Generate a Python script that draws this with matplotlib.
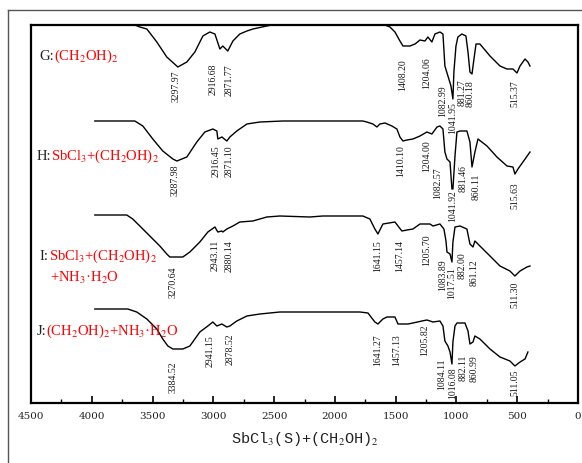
import matplotlib
matplotlib.use("Agg")
import matplotlib.pyplot as plt
from matplotlib.lines import Line2D

plt.rcParams["mathtext.fontset"] = "stix"

# --- spectra: wavenumber (cm-1) and stacked transmittance (a.u.) ---
wn_g = [3646, 3605, 3547, 3465, 3383, 3292, 3218, 3152, 3086, 3029,
        2987, 2946, 2922, 2881, 2839, 2782, 2724, 2675, 2560, 2518,
        1588, 1547, 1506, 1465, 1440, 1383, 1341, 1300, 1259, 1235,
        1202, 1177, 1136, 1111, 1095, 1070, 1045, 1029, 1021, 1004,
        988, 955, 922, 905, 889, 872, 856, 839, 807, 724,
        642, 584, 535, 502, 477, 436, 412, 395]
t_g = [378, 376, 374, 361, 346, 336, 341, 351, 367, 371,
       369, 354, 357, 352, 362, 369, 372, 374, 377, 378,
       378, 376, 371, 362, 357, 357, 359, 363, 362, 366,
       361, 369, 371, 369, 337, 327, 317, 304, 331, 357,
       366, 369, 367, 351, 331, 329, 344, 359, 359, 347,
       337, 334, 334, 330, 337, 344, 341, 337]

wn_h = [3975, 3646, 3580, 3498, 3416, 3333, 3300, 3218, 3136, 3070,
        3004, 2971, 2963, 2930, 2889, 2864, 2807, 2724, 2617, 2428,
        1770, 1737, 1687, 1654, 1630, 1588, 1531, 1490, 1465, 1440,
        1407, 1358, 1300, 1243, 1202, 1160, 1136, 1111, 1095, 1078,
        1053, 1037, 1029, 1012, 996, 971, 914, 889, 872, 848,
        823, 749, 667, 584, 535, 519, 494, 453, 395]
t_h = [282, 282, 277, 264, 252, 244, 242, 246, 261, 271,
       274, 272, 264, 266, 262, 266, 272, 279, 281, 282,
       282, 281, 279, 276, 279, 280, 277, 274, 266, 262,
       263, 264, 267, 271, 269, 276, 277, 274, 251, 244,
       241, 214, 214, 247, 271, 272, 272, 261, 236, 251,
       264, 257, 246, 237, 236, 229, 234, 241, 251]

wn_i = [3975, 3712, 3663, 3580, 3498, 3440, 3383, 3358, 3251, 3193,
        3111, 3045, 2987, 2963, 2930, 2922, 2889, 2839, 2782, 2675,
        2560, 2453, 2206, 2099, 1770, 1712, 1671, 1646, 1605, 1506,
        1449, 1407, 1358, 1300, 1218, 1193, 1136, 1103, 1086, 1078,
        1053, 1037, 1029, 1012, 971, 914, 889, 864, 848, 807,
        724, 642, 560, 519, 477, 420, 395]
t_i = [188, 188, 184, 174, 164, 157, 149, 146, 146, 151,
       161, 171, 176, 171, 172, 171, 174, 177, 181, 182,
       186, 187, 186, 187, 187, 184, 174, 169, 179, 181,
       172, 173, 174, 179, 179, 177, 179, 174, 162, 151,
       149, 141, 161, 176, 177, 174, 159, 156, 162, 157,
       147, 137, 132, 127, 132, 136, 137]

wn_j = [3975, 3704, 3630, 3547, 3465, 3416, 3374, 3333, 3251, 3193,
        3111, 3045, 3004, 2971, 2930, 2889, 2864, 2807, 2724, 2617,
        2535, 2453, 1794, 1728, 1671, 1646, 1605, 1572, 1506, 1481,
        1399, 1358, 1284, 1243, 1193, 1136, 1111, 1095, 1070, 1053,
        1037, 1029, 1012, 996, 930, 905, 889, 864, 848, 807,
        724, 642, 560, 519, 477, 436, 412]
t_j = [94, 94, 91, 84, 74, 64, 57, 54, 54, 57,
       71, 77, 81, 77, 79, 76, 77, 82, 87, 89,
       90, 91, 91, 90, 81, 79, 84, 86, 86, 79,
       79, 80, 82, 83, 81, 82, 77, 62, 57, 51,
       39, 61, 77, 80, 80, 72, 59, 61, 67, 64,
       54, 46, 42, 37, 41, 44, 51]

# --- peak annotations ---
peaks_g = ["3297.97", "2916.68", "2871.77", "1408.20", "1204.06",
           "1082.99", "1041.95", "881.27", "860.18", "515.37"]
peak_wn_g = [3308, 3004, 2872, 1440, 1243, 1111, 1029, 955, 889, 519]
peak_t_g = [336, 342, 342, 347, 349, 321, 304, 327, 326, 326]

peaks_h = ["3287.98", "2916.45", "2871.10", "1410.10", "1204.00",
           "1082.57", "1041.92", "881.46", "860.11", "515.63"]
peak_wn_h = [3317, 2979, 2872, 1457, 1243, 1152, 1029, 946, 839, 519]
peak_t_h = [241, 261, 261, 261, 266, 239, 216, 241, 232, 224]

peaks_i = ["3270.64", "2943.11", "2880.14", "1641.15", "1457.14",
           "1205.70", "1083.89", "1017.51", "882.00", "861.12", "511.30"]
peak_wn_i = [3333, 2987, 2872, 1646, 1465, 1243, 1111, 1037, 950, 856, 519]
peak_t_i = [139, 166, 166, 166, 166, 172, 147, 139, 154, 147, 124]

peaks_j = ["3384.52", "2941.15", "2878.52", "1641.27", "1457.13",
           "1205.82", "1084.11", "1016.08", "882.11", "860.99", "511.05"]
peak_wn_j = [3333, 3029, 2864, 1646, 1490, 1259, 1119, 1029, 946, 852, 519]
peak_t_j = [44, 71, 72, 72, 72, 81, 47, 39, 51, 51, 36]

# sample names: black prefix + red formula
name_prefix = ["G:", "H:", "I:", "J:"]
name_formula = ["(CH$_2$OH)$_2$", "SbCl$_3$+(CH$_2$OH)$_2$",
                "SbCl$_3$+(CH$_2$OH)$_2$", "(CH$_2$OH)$_2$+NH$_3$·H$_2$O"]
name_wn = [4428, 4452, 4428, 4452]
name_t = [344, 244, 144, 69]

xticks = [4500, 4000, 3500, 3000, 2500, 2000, 1500, 1000, 500, 0]

fig = plt.figure(figsize=(5.82, 4.64), dpi=100)
ax = fig.add_axes([31 / 582, 60 / 464, 547 / 582, 378 / 464])

for wn, t in [(wn_g, t_g), (wn_h, t_h), (wn_i, t_i), (wn_j, t_j)]:
    ax.plot(wn, t, color="black", lw=1.0, clip_on=False)

lab_kw = dict(rotation=90, ha="center", va="top", fontsize=7,
              family="Liberation Serif", color="#1a1a1a")
for labs, xs, ys in [(peaks_g, peak_wn_g, peak_t_g), (peaks_h, peak_wn_h, peak_t_h),
                     (peaks_i, peak_wn_i, peak_t_i), (peaks_j, peak_wn_j, peak_t_j)]:
    for s, x, y in zip(labs, xs, ys):
        ax.text(x, y - 2, s, **lab_kw)

ax.set_xlim(4500, 0)
ax.set_ylim(0, 378)
ax.set_xticks(xticks)
ax.set_xticks(range(250, 4500, 500), minor=True)
ax.set_xticklabels([str(v) for v in xticks], family="DejaVu Serif",
                   fontsize=7.5, color="#222222")
ax.tick_params(axis="x", which="major", direction="in", length=5, width=1.2, pad=6)
ax.tick_params(axis="x", which="minor", direction="in", length=3, width=1.0)
ax.set_yticks([])
for sp in ax.spines.values():
    sp.set_linewidth(1.6)

ax.set_xlabel("SbCl$_3$(S)+(CH$_2$OH)$_2$", family="Liberation Mono",
              fontsize=11, labelpad=6, color="#222222")

# sample names with two colours
renderer = fig.canvas.get_renderer()
name_kw = dict(family="Liberation Serif", fontsize=10.5, va="baseline")
for pre, form, x, y in zip(name_prefix, name_formula, name_wn, name_t):
    t0 = ax.text(x, y, pre, color="#222222", **name_kw)
    bb = t0.get_window_extent(renderer)
    x1 = ax.transData.inverted().transform((bb.x1, bb.y0))[0]
    if pre == "I:":
        ax.text(x1, y, form, color="red", **name_kw)
        ax.text(4346, y - 22, "+NH$_3$·H$_2$O", color="red", **name_kw)
    else:
        ax.text(x1, y, form, color="red", **name_kw)

# outer frame of the figure panel
fig.add_artist(Line2D([8 / 582, 8 / 582], [0, 453 / 464], color="#555555", lw=1.0))
fig.add_artist(Line2D([8 / 582, 1], [453 / 464, 453 / 464], color="#555555", lw=1.0))

fig.savefig("out.png", dpi=100)
